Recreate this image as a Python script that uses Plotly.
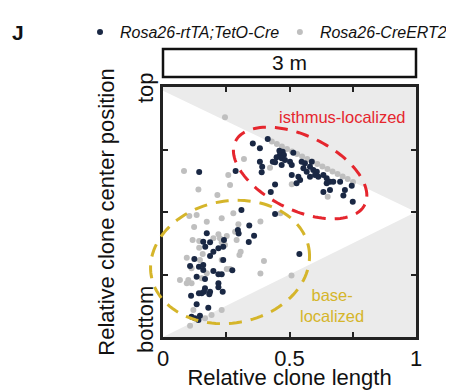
import numpy as np
import plotly.graph_objects as go

# ---- data (relative clone length, relative clone center position) ----
tet_x = [0.414, 0.355, 0.383, 0.460, 0.473, 0.462, 0.478, 0.469, 0.482, 0.449,
         0.515, 0.383, 0.392, 0.390, 0.434, 0.443, 0.469, 0.502, 0.509, 0.548,
         0.561, 0.588, 0.581, 0.555, 0.568, 0.594, 0.608, 0.601, 0.614, 0.581,
         0.509, 0.535, 0.542, 0.528, 0.634, 0.647, 0.660, 0.647, 0.673, 0.700,
         0.746, 0.660, 0.634, 0.719, 0.713, 0.750, 0.443, 0.426, 0.287, 0.143,
         0.310, 0.443, 0.539, 0.360, 0.341, 0.296, 0.299, 0.339, 0.173, 0.241,
         0.159, 0.186, 0.167, 0.219, 0.238, 0.199, 0.186, 0.124, 0.238, 0.107,
         0.142, 0.159, 0.159, 0.199, 0.219, 0.232, 0.274, 0.133, 0.166, 0.219,
         0.219, 0.166, 0.162, 0.153, 0.186, 0.183, 0.142, 0.111, 0.236, 0.133,
         0.179, 0.113, 0.126, 0.146, 0.140]
tet_y = [0.792, 0.774, 0.755, 0.745, 0.741, 0.728, 0.728, 0.715, 0.708, 0.719,
         0.737, 0.701, 0.681, 0.659, 0.701, 0.699, 0.688, 0.701, 0.688, 0.701,
         0.695, 0.701, 0.681, 0.675, 0.661, 0.668, 0.661, 0.648, 0.641, 0.641,
         0.648, 0.641, 0.628, 0.615, 0.648, 0.635, 0.621, 0.615, 0.621, 0.621,
         0.605, 0.588, 0.580, 0.588, 0.566, 0.541, 0.610, 0.580, 0.664, 0.660,
         0.508, 0.492, 0.332, 0.405, 0.446, 0.428, 0.414, 0.380, 0.415, 0.388,
         0.381, 0.379, 0.361, 0.355, 0.361, 0.341, 0.324, 0.312, 0.308, 0.284,
         0.281, 0.288, 0.268, 0.264, 0.251, 0.251, 0.267, 0.241, 0.232, 0.215,
         0.199, 0.195, 0.181, 0.175, 0.181, 0.171, 0.175, 0.165, 0.181, 0.131,
         0.117, 0.081, 0.075, 0.085, 0.068]

ert_x = [0.245, 0.320, 0.083, 0.258, 0.265, 0.140, 0.423, 0.651, 0.751, 0.509,
         0.278, 0.464, 0.385, 0.399, 0.385, 0.508, 0.215, 0.104, 0.133, 0.232,
         0.173, 0.298, 0.123, 0.285, 0.219, 0.225, 0.199, 0.117, 0.143, 0.245,
         0.143, 0.302, 0.157, 0.094, 0.146, 0.232, 0.113, 0.173, 0.252, 0.265,
         0.067, 0.100, 0.153, 0.094, 0.113, 0.120, 0.232, 0.166, 0.192, 0.107,
         0.252, 0.307, 0.291, 0.232,
         0.43, 0.45, 0.47, 0.49, 0.51, 0.53, 0.55, 0.57, 0.59, 0.61,
         0.63, 0.65, 0.67, 0.69, 0.71, 0.73]
ert_y = [0.879, 0.712, 0.664, 0.648, 0.608, 0.590, 0.677, 0.561, 0.620, 0.611,
         0.495, 0.495, 0.462, 0.304, 0.254, 0.246, 0.568, 0.484, 0.488, 0.475,
         0.461, 0.451, 0.440, 0.421, 0.411, 0.395, 0.395, 0.388, 0.384, 0.368,
         0.357, 0.328, 0.332, 0.317, 0.308, 0.308, 0.275, 0.255, 0.272, 0.272,
         0.228, 0.228, 0.235, 0.215, 0.215, 0.108, 0.108, 0.075, 0.088, 0.045,
         0.404, 0.341, 0.388, 0.379,
         0.782, 0.772, 0.762, 0.752, 0.742, 0.732, 0.722, 0.712, 0.702, 0.692,
         0.682, 0.672, 0.662, 0.652, 0.642, 0.632]

x_tickvals = [0, 0.25, 0.5, 0.75, 1]
x_ticktext = ["0", "", "0.5", "", "1"]
y_tickvals = [0.25, 0.5, 0.75]

NAVY = "#1a2844"
GRAY = "#bfbfbf"
RED = "#e5262e"
YEL = "#d5b52a"
FONT = "Liberation Sans, Arial, sans-serif"

fig = go.Figure()
fig.add_trace(go.Scatter(x=ert_x, y=ert_y, mode="markers", name="Rosa26-CreERT2",
                         marker=dict(color=GRAY, size=6), legend="legend2"))
fig.add_trace(go.Scatter(x=tet_x, y=tet_y, mode="markers", name="Rosa26-rtTA;TetO-Cre",
                         marker=dict(color=NAVY, size=6), legend="legend"))

W, H = 253.0, 250.0  # plot size in px, for round ellipse outlines


def ellipse_path(cx, cy, a, b, theta_deg):
    t = np.linspace(0, 2 * np.pi, 121)
    th = np.radians(theta_deg)
    dx = a * np.cos(t) * np.cos(th) - b * np.sin(t) * np.sin(th)
    dy = a * np.cos(t) * np.sin(th) + b * np.sin(t) * np.cos(th)
    px = cx + dx / W
    py = cy - dy / H
    return "M " + " L ".join(f"{u:.4f},{v:.4f}" for u, v in zip(px, py)) + " Z"


shapes = [
    dict(type="path", xref="x", yref="y", path="M 0,0.985 L 1,0.5 L 0,0 Z",
         fillcolor="white", line=dict(width=0), layer="below"),
    dict(type="path", xref="paper", yref="paper",
         path=ellipse_path(0.542, 0.656, 72, 37, 26),
         line=dict(color=RED, width=3, dash="13px,9px")),
    dict(type="path", xref="paper", yref="paper",
         path=ellipse_path(0.265, 0.30, 80, 61, -10),
         line=dict(color=YEL, width=3, dash="13px,9px")),
    dict(type="rect", xref="paper", yref="paper", x0=0, x1=1, y0=1.04, y1=1.152,
         line=dict(color="#111", width=2.5)),
]


def ann(text, x, y, size, color="#111", angle=0):
    return dict(text=text, x=x, y=y, xref="paper", yref="paper", showarrow=False,
                xanchor="center", yanchor="middle", textangle=angle,
                font=dict(size=size, color=color))


annotations = [
    ann("3 m", 0.5, 1.096, 21),
    ann("isthmus-localized", 0.709, 0.88, 16.5, RED),
    ann("base-<br>localized", 0.667, 0.125, 16.5, YEL),
    ann("top", -0.071, 0.996, 22, angle=-90),
    ann("bottom", -0.071, 0.068, 22, angle=-90),
    ann("<b>J</b>", -0.573, 1.22, 21),
]

legend_common = dict(orientation="h", xanchor="left", y=1.22, yanchor="middle",
                     font=dict(size=16, style="italic", color="#111"),
                     bgcolor="rgba(0,0,0,0)", itemclick=False, itemdoubleclick=False)

fig.update_layout(
    width=446, height=382,
    margin=dict(l=155, r=38, t=79, b=53, autoexpand=False),
    paper_bgcolor="white", plot_bgcolor="#ebebeb",
    font=dict(family=FONT, color="#111"),
    shapes=shapes, annotations=annotations,
    showlegend=True,
    legend=dict(x=-0.328, **legend_common),
    legend2=dict(x=0.462, **legend_common),
    xaxis=dict(range=[0, 1], showgrid=False, zeroline=False, showline=True,
               linecolor="#222", linewidth=2.5, mirror="ticks",
               ticks="inside", ticklen=5, tickwidth=2, tickcolor="#222",
               tickvals=x_tickvals, ticktext=x_ticktext, ticklabelstandoff=0,
               tickfont=dict(size=22, color="#111"),
               title=dict(text="Relative clone length", font=dict(size=22, color="#111"),
                          standoff=0)),
    yaxis=dict(range=[0, 1], showgrid=False, zeroline=False, showline=True,
               linecolor="#222", linewidth=2.5, mirror="ticks",
               ticks="inside", ticklen=5, tickwidth=2, tickcolor="#222",
               tickvals=y_tickvals, showticklabels=False,
               title=dict(text="Relative clone center position",
                          font=dict(size=22, color="#111"), standoff=40)),
)

fig.write_html("out.html")
